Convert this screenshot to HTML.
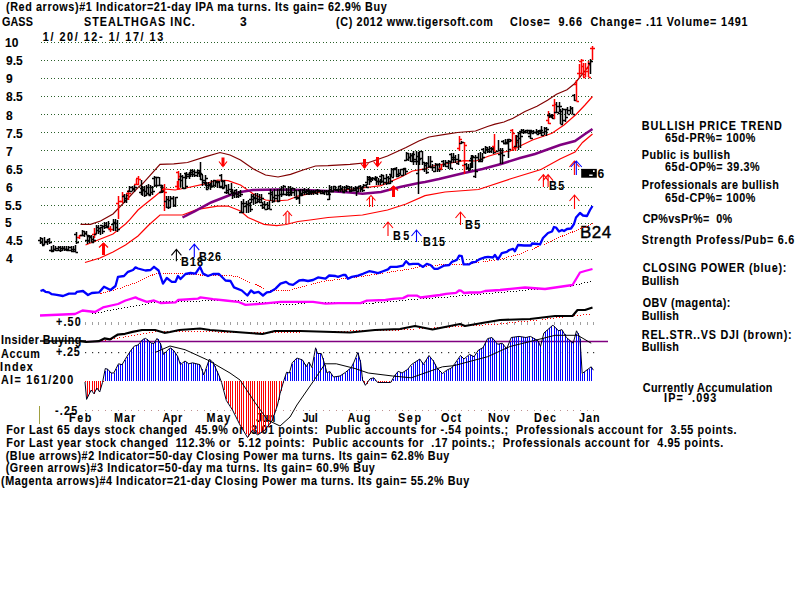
<!DOCTYPE html>
<html><head><meta charset="utf-8"><style>
html,body{margin:0;padding:0;background:#fff;width:800px;height:600px;overflow:hidden}
svg{display:block}
text{font-family:"Liberation Sans",sans-serif;white-space:pre}
</style></head><body>
<svg width="800" height="600" viewBox="0 0 800 600" xml:space="preserve">
<rect width="800" height="600" fill="#fff"/>
<g stroke="#000" stroke-width="0.08">
<text transform="translate(6.00 10.6) scale(0.9 1)" x="0" y="0" font-size="12" font-weight="bold" textLength="423.02" lengthAdjust="spacing">(Red arrows)#1 Indicator=21-day IPA ma turns. Its gain= 62.9% Buy</text>
<text transform="translate(1.90 25.6) scale(0.9 1)" x="0" y="0" font-size="12" font-weight="bold" textLength="34.46" lengthAdjust="spacing">GASS</text>
<text transform="translate(84.10 25.6) scale(0.9 1)" x="0" y="0" font-size="12" font-weight="bold" textLength="122.89" lengthAdjust="spacing">STEALTHGAS INC.</text>
<text transform="translate(240.00 25.6) scale(1.0 1)" x="0" y="0" font-size="12" font-weight="bold" textLength="7.39" lengthAdjust="spacing">3</text>
<text transform="translate(336.10 25.6) scale(0.9 1)" x="0" y="0" font-size="12" font-weight="bold" textLength="174.14" lengthAdjust="spacing">(C) 2012 www.tigersoft.com</text>
<text transform="translate(510.00 25.6) scale(0.9 1)" x="0" y="0" font-size="12" font-weight="bold" textLength="264.02" lengthAdjust="spacing">Close=  9.66  Change= .11 Volume= 1491</text>
<text transform="translate(42.85 40.6) scale(0.9 1)" x="0" y="0" font-size="12" font-weight="bold" textLength="133.69" lengthAdjust="spacing">1/ 20/ 12- 1/ 17/ 13</text>
<text transform="translate(641.85 129.9) scale(0.9 1)" x="0" y="0" font-size="12" font-weight="bold" textLength="155.56" lengthAdjust="spacing">BULLISH PRICE TREND</text>
<text transform="translate(665.00 141.6) scale(0.9 1)" x="0" y="0" font-size="12" font-weight="bold" textLength="100.49" lengthAdjust="spacing">65d-PR%= 100%</text>
<text transform="translate(641.85 158.6) scale(0.9 1)" x="0" y="0" font-size="12" font-weight="bold" textLength="98.03" lengthAdjust="spacing">Public is bullish</text>
<text transform="translate(665.00 171.3) scale(0.9 1)" x="0" y="0" font-size="12" font-weight="bold" textLength="105.17" lengthAdjust="spacing">65d-OP%= 39.3%</text>
<text transform="translate(641.85 188.8) scale(0.9 1)" x="0" y="0" font-size="12" font-weight="bold" textLength="152.17" lengthAdjust="spacing">Professionals are bullish</text>
<text transform="translate(665.00 201.6) scale(0.9 1)" x="0" y="0" font-size="12" font-weight="bold" textLength="100.49" lengthAdjust="spacing">65d-CP%= 100%</text>
<text transform="translate(642.75 222.8) scale(0.9 1)" x="0" y="0" font-size="12" font-weight="bold" textLength="99.23" lengthAdjust="spacing">CP%vsPr%=  0%</text>
<text transform="translate(641.85 244) scale(0.9 1)" x="0" y="0" font-size="12" font-weight="bold" textLength="169.39" lengthAdjust="spacing">Strength Profess/Pub= 6.6</text>
<text transform="translate(642.75 272.4) scale(0.9 1)" x="0" y="0" font-size="12" font-weight="bold" textLength="159.55" lengthAdjust="spacing">CLOSING POWER (blue):</text>
<text transform="translate(641.85 285.4) scale(0.9 1)" x="0" y="0" font-size="12" font-weight="bold" textLength="41.02" lengthAdjust="spacing">Bullish</text>
<text transform="translate(642.75 307) scale(0.9 1)" x="0" y="0" font-size="12" font-weight="bold" textLength="97.35" lengthAdjust="spacing">OBV (magenta):</text>
<text transform="translate(641.85 319.8) scale(0.9 1)" x="0" y="0" font-size="12" font-weight="bold" textLength="41.02" lengthAdjust="spacing">Bullish</text>
<text transform="translate(641.85 338.5) scale(0.9 1)" x="0" y="0" font-size="12" font-weight="bold" textLength="166.45" lengthAdjust="spacing">REL.STR..VS DJI (brown):</text>
<text transform="translate(641.85 350.6) scale(0.9 1)" x="0" y="0" font-size="12" font-weight="bold" textLength="41.02" lengthAdjust="spacing">Bullish</text>
<text transform="translate(642.75 391.9) scale(0.9 1)" x="0" y="0" font-size="12" font-weight="bold" textLength="144.13" lengthAdjust="spacing">Currently Accumulation</text>
<text transform="translate(664.10 402.3) scale(0.9 1)" x="0" y="0" font-size="12" font-weight="bold" textLength="58.04" lengthAdjust="spacing">IP=  .093</text>
<text transform="translate(6.20 434) scale(0.9 1)" x="0" y="0" font-size="12" font-weight="bold" textLength="811.41" lengthAdjust="spacing">For Last 65 days stock changed  45.9% or  3.01 points:  Public accounts for -.54 points.;  Professionals account for  3.55 points.</text>
<text transform="translate(6.20 446.6) scale(0.9 1)" x="0" y="0" font-size="12" font-weight="bold" textLength="796.75" lengthAdjust="spacing">For Last year stock changed  112.3% or  5.12 points:  Public accounts for  .17 points.;  Professionals account for  4.95 points.</text>
<text transform="translate(5.70 459.75) scale(0.9 1)" x="0" y="0" font-size="12" font-weight="bold" textLength="492.92" lengthAdjust="spacing">(Blue arrows)#2 Indicator=50-day Closing Power ma turns. Its gain= 62.8% Buy</text>
<text transform="translate(5.70 472) scale(0.9 1)" x="0" y="0" font-size="12" font-weight="bold" textLength="410.15" lengthAdjust="spacing">(Green arrows)#3 Indicator=50-day ma turns. Its gain= 60.9% Buy</text>
<text transform="translate(1.00 485) scale(0.9 1)" x="0" y="0" font-size="12" font-weight="bold" textLength="520.25" lengthAdjust="spacing">(Magenta arrows)#4 Indicator=21-day Closing Power ma turns. Its gain= 55.2% Buy</text>
<text transform="translate(69.10 422) scale(0.9 1)" x="0" y="0" font-size="12" font-weight="bold" textLength="24.68" lengthAdjust="spacing">Feb</text>
<text transform="translate(114.10 422) scale(0.9 1)" x="0" y="0" font-size="12" font-weight="bold" textLength="23.57" lengthAdjust="spacing">Mar</text>
<text transform="translate(162.50 422) scale(0.9 1)" x="0" y="0" font-size="12" font-weight="bold" textLength="21.89" lengthAdjust="spacing">Apr</text>
<text transform="translate(206.60 422) scale(0.9 1)" x="0" y="0" font-size="12" font-weight="bold" textLength="26.34" lengthAdjust="spacing">May</text>
<text transform="translate(256.00 422) scale(0.9 1)" x="0" y="0" font-size="12" font-weight="bold" textLength="21.45" lengthAdjust="spacing">Jun</text>
<text transform="translate(302.50 422) scale(0.9 1)" x="0" y="0" font-size="12" font-weight="bold" textLength="17.01" lengthAdjust="spacing">Jul</text>
<text transform="translate(347.50 422) scale(0.9 1)" x="0" y="0" font-size="12" font-weight="bold" textLength="25.33" lengthAdjust="spacing">Aug</text>
<text transform="translate(398.10 422) scale(0.9 1)" x="0" y="0" font-size="12" font-weight="bold" textLength="25.46" lengthAdjust="spacing">Sep</text>
<text transform="translate(441.00 422) scale(0.9 1)" x="0" y="0" font-size="12" font-weight="bold" textLength="22.24" lengthAdjust="spacing">Oct</text>
<text transform="translate(488.10 422) scale(0.9 1)" x="0" y="0" font-size="12" font-weight="bold" textLength="24.01" lengthAdjust="spacing">Nov</text>
<text transform="translate(534.10 422) scale(0.9 1)" x="0" y="0" font-size="12" font-weight="bold" textLength="24.35" lengthAdjust="spacing">Dec</text>
<text transform="translate(579.00 422) scale(0.9 1)" x="0" y="0" font-size="12" font-weight="bold" textLength="22.91" lengthAdjust="spacing">Jan</text>
<text transform="translate(56.00 326.25) scale(0.9 1)" x="0" y="0" font-size="12" font-weight="bold" textLength="27.37" lengthAdjust="spacing">+.50</text>
<text transform="translate(1.10 344.4) scale(0.9 1)" x="0" y="0" font-size="12" font-weight="bold" textLength="89.12" lengthAdjust="spacing">Insider Buying</text>
<text transform="translate(56.00 355.6) scale(0.9 1)" x="0" y="0" font-size="12" font-weight="bold" textLength="26.37" lengthAdjust="spacing">+.25</text>
<text transform="translate(1.00 357.5) scale(0.9 1)" x="0" y="0" font-size="12" font-weight="bold" textLength="43.24" lengthAdjust="spacing">Accum</text>
<text transform="translate(0.10 370.5) scale(0.9 1)" x="0" y="0" font-size="12" font-weight="bold" textLength="36.34" lengthAdjust="spacing">Index</text>
<text transform="translate(1.00 383.5) scale(0.9 1)" x="0" y="0" font-size="12" font-weight="bold" textLength="80.16" lengthAdjust="spacing">AI= 161/200</text>
<text transform="translate(55.00 415) scale(0.9 1)" x="0" y="0" font-size="12" font-weight="bold" textLength="24.69" lengthAdjust="spacing">-.25</text>
<text transform="translate(393.10 240) scale(0.9 1)" x="0" y="0" font-size="12" font-weight="bold" textLength="18.01" lengthAdjust="spacing">B5</text>
<text transform="translate(423.10 246) scale(0.9 1)" x="0" y="0" font-size="12" font-weight="bold" textLength="24.35" lengthAdjust="spacing">B15</text>
<text transform="translate(465.10 229) scale(0.9 1)" x="0" y="0" font-size="12" font-weight="bold" textLength="16.90" lengthAdjust="spacing">B5</text>
<text transform="translate(549.10 190) scale(0.9 1)" x="0" y="0" font-size="12" font-weight="bold" textLength="16.90" lengthAdjust="spacing">B5</text>
<text transform="translate(181.10 265.6) scale(0.9 1)" x="0" y="0" font-size="12" font-weight="bold" textLength="24.35" lengthAdjust="spacing">B18</text>
<text transform="translate(199.10 261.25) scale(0.9 1)" x="0" y="0" font-size="12" font-weight="bold" textLength="24.35" lengthAdjust="spacing">B26</text>
<text transform="translate(580.00 237.5) scale(1.0 1)" x="0" y="0" font-size="17" font-weight="normal" textLength="31.25" lengthAdjust="spacing" stroke-width="0.4">B24</text>
<text transform="translate(597.50 177.5) scale(1.0 1)" x="0" y="0" font-size="12" font-weight="bold" textLength="7.19" lengthAdjust="spacing">6</text>
<text x="5.00" y="46.5" font-size="12" font-weight="bold">10</text>
<text x="6.00" y="64.5" font-size="12" font-weight="bold">9.5</text>
<text x="6.00" y="82.5" font-size="12" font-weight="bold">9</text>
<text x="6.00" y="101" font-size="12" font-weight="bold">8.5</text>
<text x="6.00" y="119.5" font-size="12" font-weight="bold">8</text>
<text x="6.00" y="137.5" font-size="12" font-weight="bold">7.5</text>
<text x="6.00" y="155.6" font-size="12" font-weight="bold">7</text>
<text x="6.00" y="173.75" font-size="12" font-weight="bold">6.5</text>
<text x="6.00" y="191.6" font-size="12" font-weight="bold">6</text>
<text x="5.00" y="209.8" font-size="12" font-weight="bold">5.5</text>
<text x="5.00" y="227.2" font-size="12" font-weight="bold">5</text>
<text x="6.00" y="245.4" font-size="12" font-weight="bold">4.5</text>
<text x="6.00" y="262.8" font-size="12" font-weight="bold">4</text>
</g>
<line x1="40.5" y1="42.5" x2="594" y2="42.5" stroke="#2a602a" stroke-width="1" stroke-dasharray="1 2.4" shape-rendering="crispEdges"/>
<line x1="40.5" y1="60.5" x2="594" y2="60.5" stroke="#2a602a" stroke-width="1" stroke-dasharray="1 2.4" shape-rendering="crispEdges"/>
<line x1="40.5" y1="78.5" x2="594" y2="78.5" stroke="#2a602a" stroke-width="1" stroke-dasharray="1 2.4" shape-rendering="crispEdges"/>
<line x1="40.5" y1="96.5" x2="594" y2="96.5" stroke="#2a602a" stroke-width="1" stroke-dasharray="1 2.4" shape-rendering="crispEdges"/>
<line x1="40.5" y1="114.5" x2="594" y2="114.5" stroke="#2a602a" stroke-width="1" stroke-dasharray="1 2.4" shape-rendering="crispEdges"/>
<line x1="40.5" y1="132.5" x2="594" y2="132.5" stroke="#2a602a" stroke-width="1" stroke-dasharray="1 2.4" shape-rendering="crispEdges"/>
<line x1="40.5" y1="150.5" x2="594" y2="150.5" stroke="#2a602a" stroke-width="1" stroke-dasharray="1 2.4" shape-rendering="crispEdges"/>
<line x1="40.5" y1="169.5" x2="594" y2="169.5" stroke="#2a602a" stroke-width="1" stroke-dasharray="1 2.4" shape-rendering="crispEdges"/>
<line x1="40.5" y1="187.5" x2="594" y2="187.5" stroke="#2a602a" stroke-width="1" stroke-dasharray="1 2.4" shape-rendering="crispEdges"/>
<line x1="40.5" y1="205.5" x2="594" y2="205.5" stroke="#2a602a" stroke-width="1" stroke-dasharray="1 2.4" shape-rendering="crispEdges"/>
<line x1="40.5" y1="223.5" x2="594" y2="223.5" stroke="#2a602a" stroke-width="1" stroke-dasharray="1 2.4" shape-rendering="crispEdges"/>
<line x1="40.5" y1="241.5" x2="594" y2="241.5" stroke="#2a602a" stroke-width="1" stroke-dasharray="1 2.4" shape-rendering="crispEdges"/>
<line x1="40.5" y1="259.5" x2="594" y2="259.5" stroke="#2a602a" stroke-width="1" stroke-dasharray="1 2.4" shape-rendering="crispEdges"/>
<polyline points="80.5,224.4 90.5,224.4 100.5,221.0 113.0,214.0 125.5,201.0 138.0,187.5 142.5,183.8 160.0,164.4 173.8,163.8 187.5,162.5 205.0,156.9 220.0,152.5 230.0,155.0 240.5,160.0 253.0,168.8 265.5,175.0 278.0,177.0 290.5,174.4 303.0,170.0 315.5,166.0 328.0,165.6 350.0,164.4 368.8,162.5 387.5,156.0 406.0,147.5 418.8,141.0 429.0,137.0 445.0,134.4 457.5,132.5 475.5,131.0 487.5,126.5 495.0,124.2 504.0,122.0 513.0,118.2 525.0,111.5 537.0,106.2 547.5,100.2 556.5,94.2 567.0,89.7 574.5,83.7 585.0,71.0 591.0,62.5" fill="none" stroke="#800000" stroke-width="1.2"/>
<polyline points="85.5,245.0 100.5,239.0 113.0,234.0 125.5,224.0 130.0,219.4 138.0,210.0 142.5,206.2 155.0,196.2 163.8,188.8 175.0,190.0 186.0,188.0 205.0,183.8 217.5,180.0 228.0,180.6 240.5,185.0 253.0,193.8 265.5,200.0 275.5,201.0 288.0,200.0 298.0,196.0 309.0,193.8 328.0,190.6 337.5,190.6 362.5,188.0 381.0,185.6 400.0,177.5 412.5,171.0 425.0,168.8 432.5,166.0 451.0,163.0 464.0,160.6 476.0,161.0 489.0,156.0 501.0,152.5 510.0,151.0 520.0,146.0 532.5,140.0 552.0,133.2 564.0,125.0 576.0,114.5 585.0,105.0 592.5,96.5" fill="none" stroke="#ff0000" stroke-width="1.2"/>
<polyline points="85.0,262.5 100.0,258.0 113.0,252.0 125.5,245.0 138.0,236.0 148.8,225.0 160.0,215.0 182.5,215.0 197.5,209.4 217.5,206.2 228.0,206.0 240.5,211.0 248.0,217.5 264.0,224.4 276.8,225.6 286.0,224.5 298.0,221.5 310.0,220.0 328.0,217.5 362.5,215.0 387.5,210.0 406.0,204.0 425.0,195.6 445.0,192.0 478.5,189.5 510.0,179.0 541.0,169.5 560.0,159.0 575.0,152.0 582.5,142.5 592.5,134.0" fill="none" stroke="#ff0000" stroke-width="1.2"/>
<polyline points="182.5,217.5 195.0,211.2 211.0,202.5 230.0,195.0 240.5,192.0 253.0,190.0 278.0,189.4 303.0,190.0 328.0,191.0 350.0,192.5 362.5,193.8 381.0,192.0 400.0,187.0 418.8,183.0 425.0,182.0 439.0,179.0 464.0,173.0 482.5,169.0 501.0,164.0 520.0,158.0 535.0,154.0 560.0,145.0 575.0,141.0 585.0,134.0 592.5,129.0" fill="none" stroke="#800080" stroke-width="2.5"/>
<g fill="none" stroke-width="1.5" shape-rendering="auto"><path d="M40.5 237V244M38.0 240.5h2.5M40.5 242.5h2.5" stroke="#000000"/><path d="M42.5 238V245M40.0 238.5h2.5M42.5 244.5h2.5" stroke="#000000"/><path d="M44.5 237V245M42.0 245.5h2.5M44.5 241.5h2.5" stroke="#000000"/><path d="M47.5 239V245M45.0 242.5h2.5M47.5 239.5h2.5" stroke="#000000"/><path d="M49.5 238V244M47.0 241.5h2.5M49.5 242.5h2.5" stroke="#000000"/><path d="M51.5 246V252M49.0 250.5h2.5M51.5 250.5h2.5" stroke="#000000"/><path d="M53.5 245V252M51.0 251.5h2.5M53.5 249.5h2.5" stroke="#000000"/><path d="M55.5 246V251M53.0 249.5h2.5M55.5 250.5h2.5" stroke="#000000"/><path d="M58.5 246V251M56.0 248.5h2.5M58.5 250.5h2.5" stroke="#000000"/><path d="M60.5 246V252M58.0 247.5h2.5M60.5 248.5h2.5" stroke="#000000"/><path d="M62.5 246V251M60.0 250.5h2.5M62.5 248.5h2.5" stroke="#000000"/><path d="M64.5 246V251M62.0 248.5h2.5M64.5 249.5h2.5" stroke="#000000"/><path d="M66.5 246V251M64.0 249.5h2.5M66.5 250.5h2.5" stroke="#000000"/><path d="M68.5 246V250M66.0 249.5h2.5M68.5 247.5h2.5" stroke="#000000"/><path d="M71.5 246V251M69.0 250.5h2.5M71.5 249.5h2.5" stroke="#000000"/><path d="M73.5 246V252M71.0 251.5h2.5M73.5 249.5h2.5" stroke="#000000"/><path d="M75.5 245V252M73.0 251.5h2.5M75.5 252.5h2.5" stroke="#000000"/><path d="M76.5 232V244M74.0 234.5h2.5M76.5 242.5h2.5" stroke="#000000"/><path d="M79.5 235V239M77.0 237.5h2.5M79.5 235.5h2.5" stroke="#ff0000"/><path d="M82.5 230V236M80.0 235.5h2.5M82.5 231.5h2.5" stroke="#000000"/><path d="M84.5 231V237M82.0 235.5h2.5M84.5 233.5h2.5" stroke="#000000"/><path d="M86.5 231V235M84.0 233.5h2.5M86.5 235.5h2.5" stroke="#000000"/><path d="M87.5 235V244M85.0 240.5h2.5M87.5 236.5h2.5" stroke="#000000"/><path d="M89.5 235V243M87.0 240.5h2.5M89.5 236.5h2.5" stroke="#000000"/><path d="M91.5 235V242M89.0 237.5h2.5M91.5 242.5h2.5" stroke="#000000"/><path d="M93.5 236V243M91.0 239.5h2.5M93.5 240.5h2.5" stroke="#000000"/><path d="M94.5 228V238M92.0 234.5h2.5M94.5 233.5h2.5" stroke="#ff0000"/><path d="M96.5 225V234M94.0 234.5h2.5M96.5 230.5h2.5" stroke="#000000"/><path d="M98.5 225V234M96.0 227.5h2.5M98.5 228.5h2.5" stroke="#000000"/><path d="M100.5 227V235M98.0 231.5h2.5M100.5 227.5h2.5" stroke="#000000"/><path d="M102.5 225V234M100.0 225.5h2.5M102.5 231.5h2.5" stroke="#000000"/><path d="M104.5 222V229M102.0 226.5h2.5M104.5 225.5h2.5" stroke="#000000"/><path d="M106.5 222V228M104.0 227.5h2.5M106.5 227.5h2.5" stroke="#000000"/><path d="M108.5 221V229M106.0 226.5h2.5M108.5 229.5h2.5" stroke="#000000"/><path d="M110.5 226V232M108.0 228.5h2.5M110.5 229.5h2.5" stroke="#ff0000"/><path d="M113.5 219V231M111.0 224.5h2.5M113.5 223.5h2.5" stroke="#000000"/><path d="M115.5 219V231M113.0 222.5h2.5M115.5 223.5h2.5" stroke="#000000"/><path d="M117.5 220V232M115.0 227.5h2.5M117.5 229.5h2.5" stroke="#000000"/><path d="M118.5 196V219M116.0 203.5h2.5M118.5 201.5h2.5" stroke="#ff0000"/><path d="M122.5 192V203M120.0 201.5h2.5M122.5 195.5h2.5" stroke="#ff0000"/><path d="M124.5 194V203M122.0 196.5h2.5M124.5 198.5h2.5" stroke="#000000"/><path d="M126.5 194V203M124.0 200.5h2.5M126.5 195.5h2.5" stroke="#000000"/><path d="M128.5 190V200M126.0 193.5h2.5M128.5 193.5h2.5" stroke="#ff0000"/><path d="M129.5 186V192M127.0 191.5h2.5M129.5 187.5h2.5" stroke="#000000"/><path d="M132.5 186V191M130.0 191.5h2.5M132.5 188.5h2.5" stroke="#000000"/><path d="M134.5 185V192M132.0 189.5h2.5M134.5 187.5h2.5" stroke="#000000"/><path d="M136.5 179V185M134.0 184.5h2.5M136.5 184.5h2.5" stroke="#ff0000"/><path d="M138.5 176V185M136.0 178.5h2.5M138.5 179.5h2.5" stroke="#ff0000"/><path d="M141.5 180V195M139.0 192.5h2.5M141.5 190.5h2.5" stroke="#000000"/><path d="M142.5 186V196M140.0 188.5h2.5M142.5 189.5h2.5" stroke="#000000"/><path d="M144.5 186V197M142.0 190.5h2.5M144.5 191.5h2.5" stroke="#000000"/><path d="M146.5 185V196M144.0 195.5h2.5M146.5 187.5h2.5" stroke="#000000"/><path d="M148.5 184V195M146.0 193.5h2.5M148.5 195.5h2.5" stroke="#000000"/><path d="M150.5 185V195M148.0 194.5h2.5M150.5 187.5h2.5" stroke="#000000"/><path d="M152.5 186V195M150.0 192.5h2.5M152.5 191.5h2.5" stroke="#000000"/><path d="M154.5 176V187M152.0 178.5h2.5M154.5 177.5h2.5" stroke="#000000"/><path d="M156.5 177V187M154.0 185.5h2.5M156.5 177.5h2.5" stroke="#000000"/><path d="M159.5 177V186M157.0 185.5h2.5M159.5 185.5h2.5" stroke="#000000"/><path d="M161.5 185V193M159.0 192.5h2.5M161.5 190.5h2.5" stroke="#000000"/><path d="M162.5 185V193M160.0 185.5h2.5M162.5 191.5h2.5" stroke="#000000"/><path d="M164.5 184V211M162.0 189.5h2.5M164.5 192.5h2.5" stroke="#ff0000"/><path d="M166.5 196V208M164.0 201.5h2.5M166.5 207.5h2.5" stroke="#000000"/><path d="M168.5 196V209M166.0 199.5h2.5M168.5 207.5h2.5" stroke="#000000"/><path d="M170.5 196V207M168.0 200.5h2.5M170.5 198.5h2.5" stroke="#000000"/><path d="M173.5 196V207M171.0 198.5h2.5M173.5 205.5h2.5" stroke="#000000"/><path d="M175.5 197V207M173.0 205.5h2.5M175.5 197.5h2.5" stroke="#000000"/><path d="M177.5 181V189M175.0 186.5h2.5M177.5 188.5h2.5" stroke="#ff0000"/><path d="M178.5 171V189M176.0 172.5h2.5M178.5 176.5h2.5" stroke="#ff0000"/><path d="M180.5 173V187M178.0 179.5h2.5M180.5 180.5h2.5" stroke="#000000"/><path d="M182.5 175V189M180.0 176.5h2.5M182.5 177.5h2.5" stroke="#000000"/><path d="M185.5 173V189M183.0 188.5h2.5M185.5 186.5h2.5" stroke="#000000"/><path d="M186.5 172V179M184.0 173.5h2.5M186.5 176.5h2.5" stroke="#000000"/><path d="M189.5 172V179M187.0 174.5h2.5M189.5 174.5h2.5" stroke="#000000"/><path d="M190.5 170V177M188.0 174.5h2.5M190.5 172.5h2.5" stroke="#000000"/><path d="M192.5 169V177M190.0 170.5h2.5M192.5 174.5h2.5" stroke="#000000"/><path d="M194.5 170V177M192.0 171.5h2.5M194.5 172.5h2.5" stroke="#000000"/><path d="M197.5 170V177M195.0 175.5h2.5M197.5 172.5h2.5" stroke="#000000"/><path d="M199.5 171V177M197.0 173.5h2.5M199.5 173.5h2.5" stroke="#000000"/><path d="M200.5 162V180M198.0 170.5h2.5M200.5 174.5h2.5" stroke="#000000"/><path d="M202.5 175V186M200.0 179.5h2.5M202.5 182.5h2.5" stroke="#000000"/><path d="M205.5 175V186M203.0 180.5h2.5M205.5 178.5h2.5" stroke="#000000"/><path d="M206.5 182V190M204.0 183.5h2.5M206.5 185.5h2.5" stroke="#000000"/><path d="M208.5 182V189M206.0 189.5h2.5M208.5 185.5h2.5" stroke="#000000"/><path d="M210.5 183V190M208.0 185.5h2.5M210.5 186.5h2.5" stroke="#000000"/><path d="M211.5 180V187M209.0 184.5h2.5M211.5 186.5h2.5" stroke="#000000"/><path d="M213.5 181V187M211.0 186.5h2.5M213.5 185.5h2.5" stroke="#000000"/><path d="M215.5 180V187M213.0 180.5h2.5M215.5 181.5h2.5" stroke="#000000"/><path d="M217.5 181V188M215.0 182.5h2.5M217.5 182.5h2.5" stroke="#000000"/><path d="M219.5 181V188M217.0 181.5h2.5M219.5 187.5h2.5" stroke="#000000"/><path d="M221.5 174V182M219.0 175.5h2.5M221.5 181.5h2.5" stroke="#000000"/><path d="M222.5 180V188M220.0 186.5h2.5M222.5 187.5h2.5" stroke="#000000"/><path d="M224.5 180V188M222.0 188.5h2.5M224.5 185.5h2.5" stroke="#000000"/><path d="M226.5 185V194M224.0 192.5h2.5M226.5 190.5h2.5" stroke="#000000"/><path d="M228.5 184V194M226.0 192.5h2.5M228.5 194.5h2.5" stroke="#000000"/><path d="M231.5 183V194M229.0 189.5h2.5M231.5 192.5h2.5" stroke="#000000"/><path d="M232.5 189V199M230.0 191.5h2.5M232.5 195.5h2.5" stroke="#000000"/><path d="M234.5 190V198M232.0 193.5h2.5M234.5 193.5h2.5" stroke="#000000"/><path d="M236.5 189V198M234.0 190.5h2.5M236.5 194.5h2.5" stroke="#000000"/><path d="M238.5 191V198M236.0 196.5h2.5M238.5 192.5h2.5" stroke="#000000"/><path d="M240.5 190V197M238.0 195.5h2.5M240.5 194.5h2.5" stroke="#000000"/><path d="M241.5 201V213M239.0 212.5h2.5M241.5 203.5h2.5" stroke="#000000"/><path d="M243.5 199V213M241.0 212.5h2.5M243.5 206.5h2.5" stroke="#000000"/><path d="M246.5 201V213M244.0 203.5h2.5M246.5 204.5h2.5" stroke="#000000"/><path d="M248.5 200V213M246.0 204.5h2.5M248.5 203.5h2.5" stroke="#000000"/><path d="M250.5 202V212M248.0 205.5h2.5M250.5 209.5h2.5" stroke="#000000"/><path d="M251.5 194V203M249.0 199.5h2.5M251.5 196.5h2.5" stroke="#000000"/><path d="M253.5 194V205M251.0 199.5h2.5M253.5 198.5h2.5" stroke="#000000"/><path d="M255.5 193V204M253.0 197.5h2.5M255.5 202.5h2.5" stroke="#000000"/><path d="M257.5 193V202M255.0 198.5h2.5M257.5 199.5h2.5" stroke="#000000"/><path d="M259.5 194V203M257.0 201.5h2.5M259.5 199.5h2.5" stroke="#000000"/><path d="M261.5 194V203M259.0 202.5h2.5M261.5 198.5h2.5" stroke="#000000"/><path d="M262.5 202V209M260.0 205.5h2.5M262.5 204.5h2.5" stroke="#000000"/><path d="M264.5 201V209M262.0 207.5h2.5M264.5 209.5h2.5" stroke="#000000"/><path d="M267.5 202V210M265.0 204.5h2.5M267.5 205.5h2.5" stroke="#000000"/><path d="M269.5 201V209M267.0 208.5h2.5M269.5 209.5h2.5" stroke="#000000"/><path d="M270.5 189V201M268.0 193.5h2.5M270.5 194.5h2.5" stroke="#000000"/><path d="M272.5 191V203M270.0 192.5h2.5M272.5 201.5h2.5" stroke="#000000"/><path d="M274.5 189V202M272.0 197.5h2.5M274.5 198.5h2.5" stroke="#000000"/><path d="M277.5 189V202M275.0 195.5h2.5M277.5 195.5h2.5" stroke="#000000"/><path d="M279.5 189V202M277.0 201.5h2.5M279.5 194.5h2.5" stroke="#000000"/><path d="M281.5 186V197M279.0 189.5h2.5M281.5 194.5h2.5" stroke="#000000"/><path d="M283.5 185V195M281.0 194.5h2.5M283.5 186.5h2.5" stroke="#000000"/><path d="M286.5 188V196M284.0 194.5h2.5M286.5 194.5h2.5" stroke="#000000"/><path d="M288.5 186V196M286.0 192.5h2.5M288.5 194.5h2.5" stroke="#000000"/><path d="M290.5 186V195M288.0 195.5h2.5M290.5 192.5h2.5" stroke="#000000"/><path d="M291.5 188V196M289.0 192.5h2.5M291.5 188.5h2.5" stroke="#000000"/><path d="M294.5 188V196M292.0 192.5h2.5M294.5 190.5h2.5" stroke="#000000"/><path d="M296.5 190V200M294.0 197.5h2.5M296.5 197.5h2.5" stroke="#000000"/><path d="M299.5 190V204M297.0 198.5h2.5M299.5 193.5h2.5" stroke="#000000"/><path d="M300.5 189V195M298.0 190.5h2.5M300.5 194.5h2.5" stroke="#000000"/><path d="M302.5 189V196M300.0 195.5h2.5M302.5 190.5h2.5" stroke="#000000"/><path d="M304.5 188V195M302.0 192.5h2.5M304.5 192.5h2.5" stroke="#000000"/><path d="M306.5 189V195M304.0 191.5h2.5M306.5 190.5h2.5" stroke="#000000"/><path d="M308.5 188V195M306.0 193.5h2.5M308.5 191.5h2.5" stroke="#000000"/><path d="M309.5 190V195M307.0 191.5h2.5M309.5 192.5h2.5" stroke="#000000"/><path d="M311.5 190V195M309.0 193.5h2.5M311.5 191.5h2.5" stroke="#000000"/><path d="M313.5 190V195M311.0 192.5h2.5M313.5 192.5h2.5" stroke="#000000"/><path d="M315.5 190V194M313.0 191.5h2.5M315.5 193.5h2.5" stroke="#000000"/><path d="M317.5 189V195M315.0 190.5h2.5M317.5 190.5h2.5" stroke="#000000"/><path d="M320.5 190V194M318.0 191.5h2.5M320.5 191.5h2.5" stroke="#000000"/><path d="M322.5 190V194M320.0 193.5h2.5M322.5 193.5h2.5" stroke="#000000"/><path d="M324.5 190V195M322.0 192.5h2.5M324.5 191.5h2.5" stroke="#000000"/><path d="M326.5 190V194M324.0 191.5h2.5M326.5 191.5h2.5" stroke="#000000"/><path d="M328.5 190V195M326.0 194.5h2.5M328.5 194.5h2.5" stroke="#000000"/><path d="M329.5 185V200M327.0 199.5h2.5M329.5 191.5h2.5" stroke="#000000"/><path d="M331.5 186V192M329.0 189.5h2.5M331.5 191.5h2.5" stroke="#000000"/><path d="M333.5 186V192M331.0 191.5h2.5M333.5 189.5h2.5" stroke="#000000"/><path d="M335.5 186V191M333.0 186.5h2.5M335.5 190.5h2.5" stroke="#000000"/><path d="M338.5 186V192M336.0 189.5h2.5M338.5 189.5h2.5" stroke="#000000"/><path d="M340.5 185V192M338.0 186.5h2.5M340.5 188.5h2.5" stroke="#000000"/><path d="M342.5 186V192M340.0 189.5h2.5M342.5 192.5h2.5" stroke="#000000"/><path d="M344.5 186V192M342.0 191.5h2.5M344.5 190.5h2.5" stroke="#000000"/><path d="M346.5 185V192M344.0 187.5h2.5M346.5 186.5h2.5" stroke="#000000"/><path d="M349.5 186V191M347.0 188.5h2.5M349.5 190.5h2.5" stroke="#000000"/><path d="M351.5 186V192M349.0 191.5h2.5M351.5 190.5h2.5" stroke="#000000"/><path d="M353.5 187V191M351.0 190.5h2.5M353.5 188.5h2.5" stroke="#000000"/><path d="M355.5 186V191M353.0 190.5h2.5M355.5 188.5h2.5" stroke="#000000"/><path d="M358.5 186V192M356.0 187.5h2.5M358.5 186.5h2.5" stroke="#000000"/><path d="M360.5 185V192M358.0 186.5h2.5M360.5 189.5h2.5" stroke="#000000"/><path d="M362.5 186V192M360.0 188.5h2.5M362.5 190.5h2.5" stroke="#000000"/><path d="M356.5 188V196M354.0 190.5h2.5M356.5 191.5h2.5" stroke="#000000"/><path d="M363.5 184V188M361.0 187.5h2.5M363.5 185.5h2.5" stroke="#000000"/><path d="M366.5 184V188M364.0 185.5h2.5M366.5 187.5h2.5" stroke="#000000"/><path d="M367.5 176V185M365.0 182.5h2.5M367.5 179.5h2.5" stroke="#000000"/><path d="M369.5 176V185M367.0 179.5h2.5M369.5 181.5h2.5" stroke="#000000"/><path d="M370.5 177V181M368.0 177.5h2.5M370.5 178.5h2.5" stroke="#000000"/><path d="M372.5 177V181M370.0 179.5h2.5M372.5 178.5h2.5" stroke="#000000"/><path d="M375.5 176V181M373.0 178.5h2.5M375.5 177.5h2.5" stroke="#000000"/><path d="M376.5 178V185M374.0 179.5h2.5M376.5 181.5h2.5" stroke="#000000"/><path d="M378.5 178V185M376.0 181.5h2.5M378.5 181.5h2.5" stroke="#000000"/><path d="M380.5 179V185M378.0 181.5h2.5M380.5 181.5h2.5" stroke="#000000"/><path d="M381.5 174V183M379.0 176.5h2.5M381.5 175.5h2.5" stroke="#000000"/><path d="M383.5 175V185M381.0 181.5h2.5M383.5 178.5h2.5" stroke="#000000"/><path d="M386.5 174V185M384.0 182.5h2.5M386.5 177.5h2.5" stroke="#000000"/><path d="M388.5 176V184M386.0 183.5h2.5M388.5 178.5h2.5" stroke="#000000"/><path d="M390.5 175V184M388.0 183.5h2.5M390.5 181.5h2.5" stroke="#000000"/><path d="M391.5 168V177M389.0 174.5h2.5M391.5 177.5h2.5" stroke="#000000"/><path d="M393.5 168V177M391.0 169.5h2.5M393.5 169.5h2.5" stroke="#000000"/><path d="M396.5 167V177M394.0 168.5h2.5M396.5 174.5h2.5" stroke="#000000"/><path d="M398.5 169V177M396.0 176.5h2.5M398.5 173.5h2.5" stroke="#000000"/><path d="M400.5 169V175M398.0 175.5h2.5M400.5 169.5h2.5" stroke="#000000"/><path d="M403.5 168V176M401.0 175.5h2.5M403.5 168.5h2.5" stroke="#000000"/><path d="M405.5 168V175M403.0 169.5h2.5M405.5 171.5h2.5" stroke="#000000"/><path d="M406.5 152V161M404.0 160.5h2.5M406.5 153.5h2.5" stroke="#000000"/><path d="M408.5 153V161M406.0 159.5h2.5M408.5 157.5h2.5" stroke="#000000"/><path d="M410.5 153V162M408.0 157.5h2.5M410.5 155.5h2.5" stroke="#000000"/><path d="M412.5 153V161M410.0 155.5h2.5M412.5 154.5h2.5" stroke="#000000"/><path d="M413.5 151V165M411.0 161.5h2.5M413.5 159.5h2.5" stroke="#000000"/><path d="M416.5 151V165M414.0 161.5h2.5M416.5 156.5h2.5" stroke="#000000"/><path d="M418.5 152V194M416.0 173.5h2.5M418.5 159.5h2.5" stroke="#000000"/><path d="M419.5 151V165M417.0 161.5h2.5M419.5 151.5h2.5" stroke="#000000"/><path d="M422.5 151V165M420.0 158.5h2.5M422.5 162.5h2.5" stroke="#000000"/><path d="M424.5 162V172M422.0 169.5h2.5M424.5 163.5h2.5" stroke="#000000"/><path d="M426.5 162V174M424.0 165.5h2.5M426.5 172.5h2.5" stroke="#000000"/><path d="M428.5 156V168M426.0 163.5h2.5M428.5 166.5h2.5" stroke="#000000"/><path d="M430.5 156V168M428.0 166.5h2.5M430.5 161.5h2.5" stroke="#000000"/><path d="M432.5 164V171M430.0 167.5h2.5M432.5 167.5h2.5" stroke="#000000"/><path d="M435.5 163V172M433.0 171.5h2.5M435.5 164.5h2.5" stroke="#000000"/><path d="M437.5 164V172M435.0 164.5h2.5M437.5 169.5h2.5" stroke="#000000"/><path d="M439.5 163V172M437.0 164.5h2.5M439.5 169.5h2.5" stroke="#000000"/><path d="M441.5 164V170M439.0 168.5h2.5M441.5 164.5h2.5" stroke="#ff0000"/><path d="M443.5 160V167M441.0 161.5h2.5M443.5 164.5h2.5" stroke="#000000"/><path d="M445.5 160V167M443.0 164.5h2.5M445.5 166.5h2.5" stroke="#000000"/><path d="M448.5 160V169M446.0 162.5h2.5M448.5 161.5h2.5" stroke="#000000"/><path d="M450.5 161V169M448.0 161.5h2.5M450.5 168.5h2.5" stroke="#000000"/><path d="M451.5 153V163M449.0 154.5h2.5M451.5 157.5h2.5" stroke="#000000"/><path d="M453.5 153V163M451.0 159.5h2.5M453.5 159.5h2.5" stroke="#000000"/><path d="M455.5 155V163M453.0 157.5h2.5M455.5 159.5h2.5" stroke="#000000"/><path d="M458.5 154V165M456.0 163.5h2.5M458.5 160.5h2.5" stroke="#000000"/><path d="M459.5 136V151M457.0 148.5h2.5M459.5 139.5h2.5" stroke="#ff0000"/><path d="M461.5 141V144M459.0 143.5h2.5M461.5 142.5h2.5" stroke="#000000"/><path d="M464.5 142V174M462.0 165.5h2.5M464.5 145.5h2.5" stroke="#ff0000"/><path d="M466.5 163V170M464.0 164.5h2.5M466.5 167.5h2.5" stroke="#000000"/><path d="M468.5 164V170M466.0 168.5h2.5M468.5 168.5h2.5" stroke="#000000"/><path d="M470.5 163V170M468.0 170.5h2.5M470.5 165.5h2.5" stroke="#000000"/><path d="M471.5 155V168M469.0 160.5h2.5M471.5 156.5h2.5" stroke="#000000"/><path d="M472.5 155V168M470.0 158.5h2.5M472.5 157.5h2.5" stroke="#000000"/><path d="M475.5 155V178M473.0 176.5h2.5M475.5 171.5h2.5" stroke="#000000"/><path d="M478.5 153V160M476.0 157.5h2.5M478.5 160.5h2.5" stroke="#000000"/><path d="M480.5 152V161M478.0 161.5h2.5M480.5 161.5h2.5" stroke="#000000"/><path d="M482.5 153V161M480.0 159.5h2.5M482.5 157.5h2.5" stroke="#000000"/><path d="M483.5 148V152M481.0 149.5h2.5M483.5 152.5h2.5" stroke="#000000"/><path d="M485.5 146V154M483.0 152.5h2.5M485.5 149.5h2.5" stroke="#000000"/><path d="M487.5 147V153M485.0 147.5h2.5M487.5 151.5h2.5" stroke="#000000"/><path d="M489.5 146V153M487.0 149.5h2.5M489.5 151.5h2.5" stroke="#000000"/><path d="M491.5 147V153M489.0 148.5h2.5M491.5 149.5h2.5" stroke="#000000"/><path d="M493.5 147V154M491.0 148.5h2.5M493.5 152.5h2.5" stroke="#000000"/><path d="M494.5 134V151M492.0 146.5h2.5M494.5 151.5h2.5" stroke="#ff0000"/><path d="M498.5 140V151M496.0 151.5h2.5M498.5 150.5h2.5" stroke="#000000"/><path d="M500.5 148V164M498.0 154.5h2.5M500.5 150.5h2.5" stroke="#000000"/><path d="M502.5 148V164M500.0 153.5h2.5M502.5 155.5h2.5" stroke="#000000"/><path d="M503.5 140V143M501.0 141.5h2.5M503.5 143.5h2.5" stroke="#000000"/><path d="M505.5 139V143M503.0 143.5h2.5M505.5 143.5h2.5" stroke="#000000"/><path d="M507.5 139V144M505.0 143.5h2.5M507.5 139.5h2.5" stroke="#000000"/><path d="M508.5 140V158M506.0 142.5h2.5M508.5 149.5h2.5" stroke="#000000"/><path d="M510.5 139V142M508.0 141.5h2.5M510.5 140.5h2.5" stroke="#000000"/><path d="M512.5 129V151M510.0 130.5h2.5M512.5 133.5h2.5" stroke="#ff0000"/><path d="M515.5 135V151M513.0 147.5h2.5M515.5 142.5h2.5" stroke="#ff0000"/><path d="M516.5 135V147M514.0 146.5h2.5M516.5 136.5h2.5" stroke="#000000"/><path d="M518.5 132V150M516.0 140.5h2.5M518.5 138.5h2.5" stroke="#000000"/><path d="M520.5 131V148M518.0 133.5h2.5M520.5 136.5h2.5" stroke="#000000"/><path d="M521.5 129V133M519.0 131.5h2.5M521.5 130.5h2.5" stroke="#000000"/><path d="M523.5 129V134M521.0 132.5h2.5M523.5 132.5h2.5" stroke="#000000"/><path d="M525.5 130V133M523.0 131.5h2.5M525.5 130.5h2.5" stroke="#000000"/><path d="M527.5 130V133M525.0 132.5h2.5M527.5 133.5h2.5" stroke="#000000"/><path d="M529.5 130V134M527.0 130.5h2.5M529.5 130.5h2.5" stroke="#000000"/><path d="M530.5 130V139M528.0 136.5h2.5M530.5 138.5h2.5" stroke="#000000"/><path d="M531.5 130V133M529.0 132.5h2.5M531.5 133.5h2.5" stroke="#000000"/><path d="M533.5 130V133M531.0 131.5h2.5M533.5 132.5h2.5" stroke="#000000"/><path d="M536.5 129V134M534.0 132.5h2.5M536.5 134.5h2.5" stroke="#000000"/><path d="M538.5 130V134M536.0 131.5h2.5M538.5 131.5h2.5" stroke="#000000"/><path d="M540.5 130V134M538.0 133.5h2.5M540.5 130.5h2.5" stroke="#000000"/><path d="M541.5 126V136M539.0 130.5h2.5M541.5 135.5h2.5" stroke="#000000"/><path d="M544.5 127V135M542.0 132.5h2.5M544.5 128.5h2.5" stroke="#000000"/><path d="M546.5 127V136M544.0 131.5h2.5M546.5 129.5h2.5" stroke="#000000"/><path d="M548.5 111V124M546.0 120.5h2.5M548.5 123.5h2.5" stroke="#ff0000"/><path d="M549.5 113V118M547.0 115.5h2.5M549.5 115.5h2.5" stroke="#000000"/><path d="M551.5 114V118M549.0 116.5h2.5M551.5 115.5h2.5" stroke="#000000"/><path d="M552.5 114V119M550.0 116.5h2.5M552.5 118.5h2.5" stroke="#000000"/><path d="M554.5 99V119M552.0 105.5h2.5M554.5 104.5h2.5" stroke="#ff0000"/><path d="M556.5 102V112M554.0 112.5h2.5M556.5 112.5h2.5" stroke="#000000"/><path d="M559.5 102V112M557.0 106.5h2.5M559.5 106.5h2.5" stroke="#000000"/><path d="M560.5 109V124M558.0 113.5h2.5M560.5 124.5h2.5" stroke="#000000"/><path d="M562.5 108V124M560.0 111.5h2.5M562.5 109.5h2.5" stroke="#000000"/><path d="M565.5 110V122M563.0 120.5h2.5M565.5 117.5h2.5" stroke="#000000"/><path d="M567.5 107V114M565.0 109.5h2.5M567.5 114.5h2.5" stroke="#000000"/><path d="M570.5 106V114M568.0 110.5h2.5M570.5 108.5h2.5" stroke="#000000"/><path d="M572.5 107V114M570.0 108.5h2.5M572.5 114.5h2.5" stroke="#000000"/><path d="M574.5 94V101M572.0 95.5h2.5M574.5 100.5h2.5" stroke="#000000"/><path d="M576.5 80V101M574.0 84.5h2.5M576.5 101.5h2.5" stroke="#ff0000"/><path d="M579.5 64V78M577.0 73.5h2.5M579.5 73.5h2.5" stroke="#ff0000"/><path d="M581.5 59V74M579.0 61.5h2.5M581.5 60.5h2.5" stroke="#ff0000"/><path d="M583.5 63V77M581.0 66.5h2.5M583.5 74.5h2.5" stroke="#ff0000"/><path d="M585.5 63V77M583.0 77.5h2.5M585.5 71.5h2.5" stroke="#ff0000"/><path d="M588.5 61V77M586.0 68.5h2.5M588.5 77.5h2.5" stroke="#ff0000"/><path d="M590.5 59V74M588.0 63.5h2.5M590.5 61.5h2.5" stroke="#000000"/><path d="M592.5 46V60M590.0 48.5h2.5M592.5 48.5h2.5" stroke="#ff0000"/></g>
<path d="M103.5 243.5V255" stroke="#ff0000" stroke-width="3" fill="none"/><path d="M99.0 247.5L103.5 243L108.0 247.5" stroke="#ff0000" stroke-width="1.2" fill="none"/>
<path d="M286.0 224V212M289.0 224V212M283.0 216L287.5 211L292.0 216" fill="none" stroke="#ff0000" stroke-width="1.1"/>
<path d="M369.5 207V196.5M372.5 207V196.5M366.5 200.5L371 195.5L375.5 200.5" fill="none" stroke="#ff0000" stroke-width="1.1"/>
<path d="M393.5 186.5V197" stroke="#ff0000" stroke-width="3" fill="none"/><path d="M389.0 190.5L393.5 186L398.0 190.5" stroke="#ff0000" stroke-width="1.2" fill="none"/>
<path d="M223 157.5V166.0" stroke="#ff0000" stroke-width="3" fill="none"/><path d="M219 161.5L223 166.5L227 161.5" stroke="#ff0000" stroke-width="1.2" fill="none"/>
<path d="M364.5 159V167.5" stroke="#ff0000" stroke-width="3" fill="none"/><path d="M360.5 163L364.5 168L368.5 163" stroke="#ff0000" stroke-width="1.2" fill="none"/>
<path d="M377.5 157V166.0" stroke="#ff0000" stroke-width="3" fill="none"/><path d="M373.5 161.5L377.5 166.5L381.5 161.5" stroke="#ff0000" stroke-width="1.2" fill="none"/>
<path d="M388 236V222M383 228L388 222L393 228" fill="none" stroke="#ff0000" stroke-width="1.1"/>
<path d="M416.5 242V230M411.5 236L416.5 230L421.5 236" fill="none" stroke="#0000ff" stroke-width="1.1"/>
<path d="M460.5 225V212M455.5 218L460.5 212L465.5 218" fill="none" stroke="#ff0000" stroke-width="1.1"/>
<path d="M543.4 187V174.7M538.4 180.7L543.4 174.7L548.4 180.7" fill="none" stroke="#ff0000" stroke-width="1.1"/>
<path d="M548.1 187V174.7M543.1 180.7L548.1 174.7L553.1 180.7" fill="none" stroke="#ff0000" stroke-width="1.1"/>
<path d="M574.4 175V161M569.4 167L574.4 161L579.4 167" fill="none" stroke="#ff0000" stroke-width="1.1"/>
<path d="M576.3 175V161M570.8 167L576.3 161L581.8 167" fill="none" stroke="#0000ff" stroke-width="1.1"/>
<path d="M574.5 209V195M569.5 201L574.5 195L579.5 201" fill="none" stroke="#ff0000" stroke-width="1.1"/>
<path d="M176.4 261.2V249.4M171.4 255.4L176.4 249.4L181.4 255.4" fill="none" stroke="#000000" stroke-width="1.1"/>
<path d="M194.3 257.3V244.2M189.3 250.2L194.3 244.2L199.3 250.2" fill="none" stroke="#0000ff" stroke-width="1.1"/>
<rect x="581.2" y="168.9" width="15.6" height="8.8" fill="#000"/><rect x="593" y="170.2" width="1.6" height="1.8" fill="#fff"/><rect x="589.2" y="174.5" width="3.4" height="1.5" fill="#eee"/>
<polyline points="100.5,293.6 119.0,288.6 138.0,281.8 156.8,273.0 175.5,273.6 200.5,275.0 225.5,275.0 238.0,276.8 250.5,282.4 269.2,290.5 288.0,290.5 306.8,285.5 325.5,281.0 338.0,279.4 363.0,276.2 388.0,272.5 406.8,269.4 419.2,266.9 438.0,265.0 463.0,264.4 500.5,259.4 513.0,255.6 520.0,254.0 540.0,246.0 560.0,237.0 580.0,229.0 593.0,223.5" fill="none" stroke="#ff0000" stroke-width="1" stroke-dasharray="1 1.2" shape-rendering="crispEdges"/>
<polyline points="40.5,291.0 43.0,290.0 45.5,291.8 49.0,292.4 51.8,294.2 56.8,294.9 63.0,296.0 69.0,293.6 75.5,293.6 76.8,291.8 83.0,291.0 88.0,295.0 91.8,293.0 99.0,292.4 104.0,286.8 110.5,290.0 115.5,286.0 118.0,276.8 124.0,276.0 128.0,271.8 133.0,270.0 135.5,267.4 138.0,268.5 145.5,270.5 150.5,270.0 154.0,266.8 158.6,270.5 163.0,283.6 166.8,278.0 171.8,281.8 175.5,281.8 178.0,276.0 180.5,279.0 185.5,274.0 190.5,273.0 195.5,273.6 200.0,266.8 203.0,273.6 208.0,276.0 213.0,274.0 219.0,274.0 225.5,280.5 230.5,281.0 234.0,287.4 241.8,290.5 247.4,295.5 251.0,290.5 254.2,293.0 258.6,291.8 263.0,295.5 266.8,292.4 270.5,291.8 275.5,288.6 280.5,283.6 286.0,281.8 289.2,284.2 293.0,284.9 299.2,280.5 303.0,280.0 308.0,281.0 313.0,280.0 318.0,277.4 325.5,278.6 329.2,275.5 335.5,276.0 338.0,276.9 343.0,275.0 345.5,275.0 348.0,278.8 351.8,276.9 358.0,275.6 363.0,273.8 369.2,271.2 373.0,271.9 378.0,273.1 383.0,271.2 388.0,269.4 390.5,266.9 396.8,266.9 403.0,265.6 406.1,261.2 409.2,264.4 413.0,263.8 418.0,263.8 423.0,266.9 426.8,263.8 430.5,265.0 434.2,268.8 438.0,268.8 444.2,265.6 449.2,265.0 451.8,261.9 456.8,260.0 459.2,255.6 461.8,256.2 463.6,264.4 469.2,264.4 471.8,262.5 475.5,261.9 479.2,259.4 484.2,257.5 488.0,256.9 493.0,257.5 494.9,255.0 498.0,259.4 501.8,253.1 506.8,251.9 509.2,250.0 513.0,248.8 514.9,251.2 518.0,245.0 524.0,245.5 531.0,245.5 532.0,243.5 538.0,244.0 540.0,244.5 543.0,238.0 548.0,233.0 552.0,231.5 554.0,227.0 556.0,227.5 559.0,231.5 562.0,230.0 564.0,231.0 567.0,229.0 571.0,228.5 574.0,224.0 576.0,217.5 580.0,213.0 583.0,215.5 587.0,216.0 590.0,210.0 592.5,206.0" fill="none" stroke="#0000ff" stroke-width="2.3" stroke-linejoin="round"/>
<polyline points="92.0,314.0 117.0,309.0 138.0,305.5 156.8,301.8 200.5,301.0 238.0,300.5 263.0,302.4 288.0,304.9 313.0,302.4 363.0,303.8 388.0,301.9 413.0,299.4 442.0,297.5 517.0,291.0 572.0,286.0 592.0,281.0" fill="none" stroke="#000000" stroke-width="1" stroke-dasharray="1 2" shape-rendering="crispEdges"/>
<polyline points="40.0,315.5 75.0,314.0 82.5,310.5 95.0,312.0 103.0,307.4 118.0,304.0 125.5,300.5 135.5,297.4 138.0,298.6 146.8,301.8 154.0,300.5 160.5,303.0 175.5,302.4 178.0,300.0 198.0,298.6 200.5,297.4 213.0,299.2 225.5,300.5 238.0,301.8 245.5,304.9 263.0,303.6 280.5,301.8 298.0,301.8 313.0,301.8 325.5,303.6 338.0,303.1 360.5,303.1 366.8,300.6 385.5,300.0 393.0,298.8 403.0,298.1 408.0,295.6 416.8,295.6 420.5,297.5 440.0,295.0 446.0,293.8 456.0,292.8 459.0,290.5 461.0,290.7 464.0,293.0 470.0,292.5 480.0,292.5 485.0,291.0 500.0,290.0 525.0,287.5 545.0,289.0 572.5,285.0 580.0,272.5 585.0,271.0 592.5,269.0" fill="none" stroke="#ff00ff" stroke-width="2.3" stroke-linejoin="round"/>
<g fill="#a0a0a0" shape-rendering="crispEdges"><rect x="85" y="322" width="1" height="3"/><rect x="92" y="322" width="1" height="3"/><rect x="98" y="322" width="1" height="3"/><rect x="105" y="322" width="1" height="3"/><rect x="111" y="322" width="1" height="3"/><rect x="118" y="322" width="1" height="3"/><rect x="125" y="322" width="1" height="3"/><rect x="131" y="322" width="1" height="3"/><rect x="138" y="322" width="1" height="3"/><rect x="144" y="322" width="1" height="3"/><rect x="151" y="322" width="1" height="3"/><rect x="158" y="322" width="1" height="3"/><rect x="164" y="322" width="1" height="3"/><rect x="171" y="322" width="1" height="3"/><rect x="177" y="322" width="1" height="3"/><rect x="184" y="322" width="1" height="3"/><rect x="191" y="322" width="1" height="3"/><rect x="197" y="322" width="1" height="3"/><rect x="204" y="322" width="1" height="3"/><rect x="210" y="322" width="1" height="3"/><rect x="217" y="322" width="1" height="3"/><rect x="224" y="322" width="1" height="3"/><rect x="230" y="322" width="1" height="3"/><rect x="237" y="322" width="1" height="3"/><rect x="243" y="322" width="1" height="3"/><rect x="250" y="322" width="1" height="3"/><rect x="257" y="322" width="1" height="3"/><rect x="263" y="322" width="1" height="3"/><rect x="270" y="322" width="1" height="3"/><rect x="276" y="322" width="1" height="3"/><rect x="283" y="322" width="1" height="3"/><rect x="290" y="322" width="1" height="3"/><rect x="296" y="322" width="1" height="3"/><rect x="303" y="322" width="1" height="3"/><rect x="309" y="322" width="1" height="3"/><rect x="316" y="322" width="1" height="3"/><rect x="323" y="322" width="1" height="3"/><rect x="329" y="322" width="1" height="3"/><rect x="336" y="322" width="1" height="3"/><rect x="342" y="322" width="1" height="3"/><rect x="349" y="322" width="1" height="3"/><rect x="356" y="322" width="1" height="3"/><rect x="362" y="322" width="1" height="3"/><rect x="369" y="322" width="1" height="3"/><rect x="375" y="322" width="1" height="3"/><rect x="382" y="322" width="1" height="3"/><rect x="389" y="322" width="1" height="3"/><rect x="395" y="322" width="1" height="3"/><rect x="402" y="322" width="1" height="3"/><rect x="408" y="322" width="1" height="3"/><rect x="415" y="322" width="1" height="3"/><rect x="422" y="322" width="1" height="3"/><rect x="428" y="322" width="1" height="3"/><rect x="435" y="322" width="1" height="3"/><rect x="441" y="322" width="1" height="3"/><rect x="448" y="322" width="1" height="3"/><rect x="455" y="322" width="1" height="3"/><rect x="461" y="322" width="1" height="3"/><rect x="468" y="322" width="1" height="3"/><rect x="474" y="322" width="1" height="3"/><rect x="481" y="322" width="1" height="3"/><rect x="488" y="322" width="1" height="3"/><rect x="494" y="322" width="1" height="3"/><rect x="501" y="322" width="1" height="3"/><rect x="507" y="322" width="1" height="3"/><rect x="514" y="322" width="1" height="3"/><rect x="521" y="322" width="1" height="3"/><rect x="527" y="322" width="1" height="3"/><rect x="534" y="322" width="1" height="3"/><rect x="540" y="322" width="1" height="3"/><rect x="547" y="322" width="1" height="3"/><rect x="554" y="322" width="1" height="3"/><rect x="560" y="322" width="1" height="3"/><rect x="567" y="322" width="1" height="3"/><rect x="573" y="322" width="1" height="3"/><rect x="580" y="322" width="1" height="3"/><rect x="587" y="322" width="1" height="3"/><rect x="593" y="322" width="1" height="3"/></g>
<g fill="#303030"><rect x="85" y="352" width="1.2" height="1.2"/><rect x="92" y="352" width="1.2" height="1.2"/><rect x="98" y="352" width="1.2" height="1.2"/><rect x="105" y="352" width="1.2" height="1.2"/><rect x="111" y="352" width="1.2" height="1.2"/><rect x="118" y="352" width="1.2" height="1.2"/><rect x="125" y="352" width="1.2" height="1.2"/><rect x="131" y="352" width="1.2" height="1.2"/><rect x="138" y="352" width="1.2" height="1.2"/><rect x="144" y="352" width="1.2" height="1.2"/><rect x="151" y="352" width="1.2" height="1.2"/><rect x="158" y="352" width="1.2" height="1.2"/><rect x="164" y="352" width="1.2" height="1.2"/><rect x="171" y="352" width="1.2" height="1.2"/><rect x="177" y="352" width="1.2" height="1.2"/><rect x="184" y="352" width="1.2" height="1.2"/><rect x="191" y="352" width="1.2" height="1.2"/><rect x="197" y="352" width="1.2" height="1.2"/><rect x="204" y="352" width="1.2" height="1.2"/><rect x="210" y="352" width="1.2" height="1.2"/><rect x="217" y="352" width="1.2" height="1.2"/><rect x="224" y="352" width="1.2" height="1.2"/><rect x="230" y="352" width="1.2" height="1.2"/><rect x="237" y="352" width="1.2" height="1.2"/><rect x="243" y="352" width="1.2" height="1.2"/><rect x="250" y="352" width="1.2" height="1.2"/><rect x="257" y="352" width="1.2" height="1.2"/><rect x="263" y="352" width="1.2" height="1.2"/><rect x="270" y="352" width="1.2" height="1.2"/><rect x="276" y="352" width="1.2" height="1.2"/><rect x="283" y="352" width="1.2" height="1.2"/><rect x="290" y="352" width="1.2" height="1.2"/><rect x="296" y="352" width="1.2" height="1.2"/><rect x="303" y="352" width="1.2" height="1.2"/><rect x="309" y="352" width="1.2" height="1.2"/><rect x="316" y="352" width="1.2" height="1.2"/><rect x="323" y="352" width="1.2" height="1.2"/><rect x="329" y="352" width="1.2" height="1.2"/><rect x="336" y="352" width="1.2" height="1.2"/><rect x="342" y="352" width="1.2" height="1.2"/><rect x="349" y="352" width="1.2" height="1.2"/><rect x="356" y="352" width="1.2" height="1.2"/><rect x="362" y="352" width="1.2" height="1.2"/><rect x="369" y="352" width="1.2" height="1.2"/><rect x="375" y="352" width="1.2" height="1.2"/><rect x="382" y="352" width="1.2" height="1.2"/><rect x="389" y="352" width="1.2" height="1.2"/><rect x="395" y="352" width="1.2" height="1.2"/><rect x="402" y="352" width="1.2" height="1.2"/><rect x="408" y="352" width="1.2" height="1.2"/><rect x="415" y="352" width="1.2" height="1.2"/><rect x="422" y="352" width="1.2" height="1.2"/><rect x="428" y="352" width="1.2" height="1.2"/><rect x="435" y="352" width="1.2" height="1.2"/><rect x="441" y="352" width="1.2" height="1.2"/><rect x="448" y="352" width="1.2" height="1.2"/><rect x="455" y="352" width="1.2" height="1.2"/><rect x="461" y="352" width="1.2" height="1.2"/><rect x="468" y="352" width="1.2" height="1.2"/><rect x="474" y="352" width="1.2" height="1.2"/><rect x="481" y="352" width="1.2" height="1.2"/><rect x="488" y="352" width="1.2" height="1.2"/><rect x="494" y="352" width="1.2" height="1.2"/><rect x="501" y="352" width="1.2" height="1.2"/><rect x="507" y="352" width="1.2" height="1.2"/><rect x="514" y="352" width="1.2" height="1.2"/><rect x="521" y="352" width="1.2" height="1.2"/><rect x="527" y="352" width="1.2" height="1.2"/><rect x="534" y="352" width="1.2" height="1.2"/><rect x="540" y="352" width="1.2" height="1.2"/><rect x="547" y="352" width="1.2" height="1.2"/><rect x="554" y="352" width="1.2" height="1.2"/><rect x="560" y="352" width="1.2" height="1.2"/><rect x="567" y="352" width="1.2" height="1.2"/><rect x="573" y="352" width="1.2" height="1.2"/><rect x="580" y="352" width="1.2" height="1.2"/><rect x="587" y="352" width="1.2" height="1.2"/><rect x="593" y="352" width="1.2" height="1.2"/></g>
<g fill="#c09090" shape-rendering="crispEdges"><rect x="85" y="410" width="1" height="1"/><rect x="92" y="410" width="1" height="1"/><rect x="98" y="410" width="1" height="1"/><rect x="105" y="410" width="1" height="1"/><rect x="111" y="410" width="1" height="1"/><rect x="118" y="410" width="1" height="1"/><rect x="125" y="410" width="1" height="1"/><rect x="131" y="410" width="1" height="1"/><rect x="138" y="410" width="1" height="1"/><rect x="144" y="410" width="1" height="1"/><rect x="151" y="410" width="1" height="1"/><rect x="158" y="410" width="1" height="1"/><rect x="164" y="410" width="1" height="1"/><rect x="171" y="410" width="1" height="1"/><rect x="177" y="410" width="1" height="1"/><rect x="184" y="410" width="1" height="1"/><rect x="191" y="410" width="1" height="1"/><rect x="197" y="410" width="1" height="1"/><rect x="204" y="410" width="1" height="1"/><rect x="210" y="410" width="1" height="1"/><rect x="217" y="410" width="1" height="1"/><rect x="224" y="410" width="1" height="1"/><rect x="230" y="410" width="1" height="1"/><rect x="237" y="410" width="1" height="1"/><rect x="243" y="410" width="1" height="1"/><rect x="250" y="410" width="1" height="1"/><rect x="257" y="410" width="1" height="1"/><rect x="263" y="410" width="1" height="1"/><rect x="270" y="410" width="1" height="1"/><rect x="276" y="410" width="1" height="1"/><rect x="283" y="410" width="1" height="1"/><rect x="290" y="410" width="1" height="1"/><rect x="296" y="410" width="1" height="1"/><rect x="303" y="410" width="1" height="1"/><rect x="309" y="410" width="1" height="1"/><rect x="316" y="410" width="1" height="1"/><rect x="323" y="410" width="1" height="1"/><rect x="329" y="410" width="1" height="1"/><rect x="336" y="410" width="1" height="1"/><rect x="342" y="410" width="1" height="1"/><rect x="349" y="410" width="1" height="1"/><rect x="356" y="410" width="1" height="1"/><rect x="362" y="410" width="1" height="1"/><rect x="369" y="410" width="1" height="1"/><rect x="375" y="410" width="1" height="1"/><rect x="382" y="410" width="1" height="1"/><rect x="389" y="410" width="1" height="1"/><rect x="395" y="410" width="1" height="1"/><rect x="402" y="410" width="1" height="1"/><rect x="408" y="410" width="1" height="1"/><rect x="415" y="410" width="1" height="1"/><rect x="422" y="410" width="1" height="1"/><rect x="428" y="410" width="1" height="1"/><rect x="435" y="410" width="1" height="1"/><rect x="441" y="410" width="1" height="1"/><rect x="448" y="410" width="1" height="1"/><rect x="455" y="410" width="1" height="1"/><rect x="461" y="410" width="1" height="1"/><rect x="468" y="410" width="1" height="1"/><rect x="474" y="410" width="1" height="1"/><rect x="481" y="410" width="1" height="1"/><rect x="488" y="410" width="1" height="1"/><rect x="494" y="410" width="1" height="1"/><rect x="501" y="410" width="1" height="1"/><rect x="507" y="410" width="1" height="1"/><rect x="514" y="410" width="1" height="1"/><rect x="521" y="410" width="1" height="1"/><rect x="527" y="410" width="1" height="1"/><rect x="534" y="410" width="1" height="1"/><rect x="540" y="410" width="1" height="1"/><rect x="547" y="410" width="1" height="1"/><rect x="554" y="410" width="1" height="1"/><rect x="560" y="410" width="1" height="1"/><rect x="567" y="410" width="1" height="1"/><rect x="573" y="410" width="1" height="1"/><rect x="580" y="410" width="1" height="1"/><rect x="587" y="410" width="1" height="1"/><rect x="593" y="410" width="1" height="1"/></g>
<line x1="85" y1="341.5" x2="608" y2="341.5" stroke="#800080" stroke-width="1.3"/>
<line x1="40" y1="341" x2="86" y2="341" stroke="#000" stroke-width="1.5"/>
<line x1="39.5" y1="406" x2="39.5" y2="424" stroke="#a0a040" stroke-width="1"/>
<polyline points="98.8,341.2 117.5,338.4 136.3,334.7 155.0,331.9 181.3,331.0 250.0,333.0 400.0,330.0 500.0,324.0 592.5,314.0" fill="none" stroke="#ff0000" stroke-width="1" stroke-dasharray="1 2" shape-rendering="crispEdges"/>
<polyline points="80.0,341.2 86.0,342.0 98.8,341.2 104.4,338.4 110.0,339.4 117.5,334.7 125.0,333.8 132.5,331.9 142.0,330.0 155.0,330.0 164.4,332.8 170.0,332.0 179.4,330.0 200.0,328.5 210.0,330.0 242.5,332.5 262.5,334.0 275.0,331.0 300.0,331.0 350.0,332.5 375.0,330.0 400.0,329.0 415.0,326.0 432.5,329.5 460.0,324.0 465.0,326.0 485.0,322.5 500.0,320.0 530.0,319.0 555.0,316.0 572.5,316.0 577.5,310.0 585.0,310.0 592.5,307.5" fill="none" stroke="#000000" stroke-width="2.2" stroke-linejoin="round"/>
<g fill="none" stroke-width="1.1" shape-rendering="crispEdges"><path d="M85.5 381V382.0" stroke="#ff0000"/><path d="M87.5 381V398.2" stroke="#ff0000"/><path d="M89.5 381V393.7" stroke="#ff0000"/><path d="M92.5 381V390.5" stroke="#ff0000"/><path d="M94.5 381V393.5" stroke="#ff0000"/><path d="M96.5 381V389.8" stroke="#ff0000"/><path d="M98.5 381V389.9" stroke="#ff0000"/><path d="M100.5 381V389.6" stroke="#ff0000"/><path d="M103.5 381V382.0" stroke="#ff0000"/><path d="M105.5 381V371.0" stroke="#0000ff"/><path d="M107.5 381V369.1" stroke="#0000ff"/><path d="M109.5 381V370.8" stroke="#0000ff"/><path d="M111.5 381V373.0" stroke="#0000ff"/><path d="M114.5 381V373.0" stroke="#0000ff"/><path d="M116.5 381V369.0" stroke="#0000ff"/><path d="M118.5 381V364.7" stroke="#0000ff"/><path d="M120.5 381V364.2" stroke="#0000ff"/><path d="M122.5 381V364.0" stroke="#0000ff"/><path d="M125.5 381V360.3" stroke="#0000ff"/><path d="M127.5 381V356.7" stroke="#0000ff"/><path d="M129.5 381V353.3" stroke="#0000ff"/><path d="M131.5 381V350.0" stroke="#0000ff"/><path d="M133.5 381V347.2" stroke="#0000ff"/><path d="M136.5 381V345.7" stroke="#0000ff"/><path d="M138.5 381V345.1" stroke="#0000ff"/><path d="M140.5 381V342.7" stroke="#0000ff"/><path d="M142.5 381V340.1" stroke="#0000ff"/><path d="M144.5 381V338.8" stroke="#0000ff"/><path d="M147.5 381V339.1" stroke="#0000ff"/><path d="M149.5 381V340.9" stroke="#0000ff"/><path d="M151.5 381V342.8" stroke="#0000ff"/><path d="M153.5 381V343.4" stroke="#0000ff"/><path d="M155.5 381V341.1" stroke="#0000ff"/><path d="M158.5 381V339.3" stroke="#0000ff"/><path d="M160.5 381V342.6" stroke="#0000ff"/><path d="M162.5 381V348.8" stroke="#0000ff"/><path d="M164.5 381V353.7" stroke="#0000ff"/><path d="M166.5 381V351.5" stroke="#0000ff"/><path d="M169.5 381V349.2" stroke="#0000ff"/><path d="M171.5 381V348.4" stroke="#0000ff"/><path d="M173.5 381V350.0" stroke="#0000ff"/><path d="M175.5 381V352.7" stroke="#0000ff"/><path d="M177.5 381V356.0" stroke="#0000ff"/><path d="M180.5 381V362.3" stroke="#0000ff"/><path d="M182.5 381V363.6" stroke="#0000ff"/><path d="M184.5 381V361.8" stroke="#0000ff"/><path d="M186.5 381V361.9" stroke="#0000ff"/><path d="M188.5 381V363.5" stroke="#0000ff"/><path d="M191.5 381V363.3" stroke="#0000ff"/><path d="M193.5 381V362.9" stroke="#0000ff"/><path d="M195.5 381V363.4" stroke="#0000ff"/><path d="M197.5 381V364.0" stroke="#0000ff"/><path d="M199.5 381V364.5" stroke="#0000ff"/><path d="M202.5 381V369.0" stroke="#0000ff"/><path d="M204.5 381V375.0" stroke="#0000ff"/><path d="M206.5 381V368.7" stroke="#0000ff"/><path d="M208.5 381V362.4" stroke="#0000ff"/><path d="M210.5 381V360.0" stroke="#0000ff"/><path d="M213.5 381V362.2" stroke="#0000ff"/><path d="M215.5 381V366.3" stroke="#0000ff"/><path d="M217.5 381V371.1" stroke="#0000ff"/><path d="M219.5 381V376.1" stroke="#0000ff"/><path d="M221.5 381V382.0" stroke="#ff0000"/><path d="M224.5 381V390.1" stroke="#ff0000"/><path d="M226.5 381V398.5" stroke="#ff0000"/><path d="M228.5 381V403.0" stroke="#ff0000"/><path d="M230.5 381V406.4" stroke="#ff0000"/><path d="M232.5 381V409.8" stroke="#ff0000"/><path d="M235.5 381V414.2" stroke="#ff0000"/><path d="M237.5 381V418.6" stroke="#ff0000"/><path d="M239.5 381V423.0" stroke="#ff0000"/><path d="M241.5 381V427.0" stroke="#ff0000"/><path d="M243.5 381V430.7" stroke="#ff0000"/><path d="M246.5 381V434.3" stroke="#ff0000"/><path d="M248.5 381V437.1" stroke="#ff0000"/><path d="M250.5 381V433.8" stroke="#ff0000"/><path d="M252.5 381V430.5" stroke="#ff0000"/><path d="M254.5 381V431.9" stroke="#ff0000"/><path d="M257.5 381V434.1" stroke="#ff0000"/><path d="M259.5 381V434.1" stroke="#ff0000"/><path d="M261.5 381V432.7" stroke="#ff0000"/><path d="M263.5 381V431.2" stroke="#ff0000"/><path d="M265.5 381V429.5" stroke="#ff0000"/><path d="M268.5 381V426.5" stroke="#ff0000"/><path d="M270.5 381V423.6" stroke="#ff0000"/><path d="M272.5 381V420.7" stroke="#ff0000"/><path d="M274.5 381V414.9" stroke="#ff0000"/><path d="M276.5 381V408.3" stroke="#ff0000"/><path d="M279.5 381V400.1" stroke="#ff0000"/><path d="M281.5 381V390.9" stroke="#ff0000"/><path d="M283.5 381V383.2" stroke="#ff0000"/><path d="M285.5 381V376.3" stroke="#0000ff"/><path d="M287.5 381V372.4" stroke="#0000ff"/><path d="M290.5 381V372.3" stroke="#0000ff"/><path d="M292.5 381V364.3" stroke="#0000ff"/><path d="M294.5 381V361.0" stroke="#0000ff"/><path d="M296.5 381V358.7" stroke="#0000ff"/><path d="M298.5 381V358.5" stroke="#0000ff"/><path d="M301.5 381V359.3" stroke="#0000ff"/><path d="M303.5 381V360.5" stroke="#0000ff"/><path d="M305.5 381V364.3" stroke="#0000ff"/><path d="M307.5 381V365.1" stroke="#0000ff"/><path d="M309.5 381V362.8" stroke="#0000ff"/><path d="M312.5 381V366.9" stroke="#0000ff"/><path d="M314.5 381V357.4" stroke="#0000ff"/><path d="M316.5 381V349.0" stroke="#0000ff"/><path d="M318.5 381V353.5" stroke="#0000ff"/><path d="M320.5 381V353.5" stroke="#0000ff"/><path d="M323.5 381V357.6" stroke="#0000ff"/><path d="M325.5 381V364.9" stroke="#0000ff"/><path d="M327.5 381V373.0" stroke="#0000ff"/><path d="M329.5 381V371.6" stroke="#0000ff"/><path d="M331.5 381V373.8" stroke="#0000ff"/><path d="M334.5 381V377.0" stroke="#0000ff"/><path d="M336.5 381V376.6" stroke="#0000ff"/><path d="M338.5 381V376.3" stroke="#0000ff"/><path d="M340.5 381V375.9" stroke="#0000ff"/><path d="M342.5 381V374.4" stroke="#0000ff"/><path d="M345.5 381V372.9" stroke="#0000ff"/><path d="M347.5 381V371.3" stroke="#0000ff"/><path d="M349.5 381V369.4" stroke="#0000ff"/><path d="M351.5 381V367.6" stroke="#0000ff"/><path d="M353.5 381V363.2" stroke="#0000ff"/><path d="M356.5 381V358.1" stroke="#0000ff"/><path d="M358.5 381V352.7" stroke="#0000ff"/><path d="M360.5 381V360.2" stroke="#0000ff"/><path d="M362.5 381V376.9" stroke="#0000ff"/><path d="M364.5 381V383.4" stroke="#ff0000"/><path d="M367.5 381V383.6" stroke="#ff0000"/><path d="M369.5 381V380.5" stroke="#0000ff"/><path d="M371.5 381V378.5" stroke="#0000ff"/><path d="M373.5 381V378.0" stroke="#0000ff"/><path d="M375.5 381V379.8" stroke="#0000ff"/><path d="M378.5 381V382.5" stroke="#ff0000"/><path d="M380.5 381V382.5" stroke="#ff0000"/><path d="M382.5 381V382.5" stroke="#ff0000"/><path d="M384.5 381V382.5" stroke="#ff0000"/><path d="M386.5 381V382.5" stroke="#ff0000"/><path d="M389.5 381V382.5" stroke="#ff0000"/><path d="M391.5 381V382.3" stroke="#ff0000"/><path d="M393.5 381V378.5" stroke="#0000ff"/><path d="M395.5 381V375.0" stroke="#0000ff"/><path d="M397.5 381V372.3" stroke="#0000ff"/><path d="M400.5 381V371.9" stroke="#0000ff"/><path d="M402.5 381V372.9" stroke="#0000ff"/><path d="M404.5 381V371.7" stroke="#0000ff"/><path d="M406.5 381V370.3" stroke="#0000ff"/><path d="M408.5 381V368.4" stroke="#0000ff"/><path d="M411.5 381V365.6" stroke="#0000ff"/><path d="M413.5 381V363.7" stroke="#0000ff"/><path d="M415.5 381V362.2" stroke="#0000ff"/><path d="M417.5 381V360.7" stroke="#0000ff"/><path d="M419.5 381V359.3" stroke="#0000ff"/><path d="M422.5 381V361.7" stroke="#0000ff"/><path d="M424.5 381V363.9" stroke="#0000ff"/><path d="M426.5 381V360.3" stroke="#0000ff"/><path d="M428.5 381V356.8" stroke="#0000ff"/><path d="M430.5 381V357.3" stroke="#0000ff"/><path d="M433.5 381V360.1" stroke="#0000ff"/><path d="M435.5 381V363.7" stroke="#0000ff"/><path d="M437.5 381V368.0" stroke="#0000ff"/><path d="M439.5 381V370.2" stroke="#0000ff"/><path d="M441.5 381V372.4" stroke="#0000ff"/><path d="M444.5 381V372.6" stroke="#0000ff"/><path d="M446.5 381V370.9" stroke="#0000ff"/><path d="M448.5 381V369.6" stroke="#0000ff"/><path d="M450.5 381V368.6" stroke="#0000ff"/><path d="M452.5 381V366.8" stroke="#0000ff"/><path d="M455.5 381V363.9" stroke="#0000ff"/><path d="M457.5 381V360.8" stroke="#0000ff"/><path d="M459.5 381V357.7" stroke="#0000ff"/><path d="M461.5 381V356.2" stroke="#0000ff"/><path d="M463.5 381V358.4" stroke="#0000ff"/><path d="M466.5 381V357.7" stroke="#0000ff"/><path d="M468.5 381V355.8" stroke="#0000ff"/><path d="M470.5 381V354.7" stroke="#0000ff"/><path d="M472.5 381V355.8" stroke="#0000ff"/><path d="M474.5 381V356.1" stroke="#0000ff"/><path d="M477.5 381V352.8" stroke="#0000ff"/><path d="M479.5 381V349.8" stroke="#0000ff"/><path d="M481.5 381V348.7" stroke="#0000ff"/><path d="M483.5 381V347.3" stroke="#0000ff"/><path d="M485.5 381V343.0" stroke="#0000ff"/><path d="M488.5 381V338.6" stroke="#0000ff"/><path d="M490.5 381V338.1" stroke="#0000ff"/><path d="M492.5 381V337.5" stroke="#0000ff"/><path d="M494.5 381V340.1" stroke="#0000ff"/><path d="M496.5 381V342.7" stroke="#0000ff"/><path d="M499.5 381V344.1" stroke="#0000ff"/><path d="M501.5 381V343.5" stroke="#0000ff"/><path d="M503.5 381V344.2" stroke="#0000ff"/><path d="M505.5 381V346.9" stroke="#0000ff"/><path d="M507.5 381V347.0" stroke="#0000ff"/><path d="M510.5 381V341.5" stroke="#0000ff"/><path d="M512.5 381V337.4" stroke="#0000ff"/><path d="M514.5 381V337.1" stroke="#0000ff"/><path d="M516.5 381V336.8" stroke="#0000ff"/><path d="M518.5 381V336.5" stroke="#0000ff"/><path d="M521.5 381V336.7" stroke="#0000ff"/><path d="M523.5 381V337.0" stroke="#0000ff"/><path d="M525.5 381V337.4" stroke="#0000ff"/><path d="M527.5 381V337.2" stroke="#0000ff"/><path d="M529.5 381V336.6" stroke="#0000ff"/><path d="M532.5 381V337.1" stroke="#0000ff"/><path d="M534.5 381V338.4" stroke="#0000ff"/><path d="M536.5 381V339.6" stroke="#0000ff"/><path d="M538.5 381V340.9" stroke="#0000ff"/><path d="M540.5 381V346.3" stroke="#0000ff"/><path d="M543.5 381V338.2" stroke="#0000ff"/><path d="M545.5 381V332.2" stroke="#0000ff"/><path d="M547.5 381V330.3" stroke="#0000ff"/><path d="M549.5 381V328.3" stroke="#0000ff"/><path d="M551.5 381V326.4" stroke="#0000ff"/><path d="M554.5 381V325.8" stroke="#0000ff"/><path d="M556.5 381V328.1" stroke="#0000ff"/><path d="M558.5 381V330.3" stroke="#0000ff"/><path d="M560.5 381V330.2" stroke="#0000ff"/><path d="M562.5 381V330.5" stroke="#0000ff"/><path d="M565.5 381V334.3" stroke="#0000ff"/><path d="M567.5 381V337.8" stroke="#0000ff"/><path d="M569.5 381V339.7" stroke="#0000ff"/><path d="M571.5 381V341.5" stroke="#0000ff"/><path d="M573.5 381V342.4" stroke="#0000ff"/><path d="M576.5 381V334.2" stroke="#0000ff"/><path d="M578.5 381V333.4" stroke="#0000ff"/><path d="M580.5 381V339.1" stroke="#0000ff"/><path d="M582.5 381V373.5" stroke="#0000ff"/><path d="M584.5 381V371.9" stroke="#0000ff"/><path d="M587.5 381V370.2" stroke="#0000ff"/><path d="M589.5 381V368.6" stroke="#0000ff"/><path d="M591.5 381V366.9" stroke="#0000ff"/></g>
<polyline points="85.0,382.0 86.6,399.4 91.2,390.0 94.0,393.8 96.9,388.0 99.7,392.0 102.5,382.5 105.3,368.5 108.0,369.4 111.0,373.0 113.8,373.0 118.5,363.8 122.0,364.7 126.0,358.0 130.7,350.6 134.4,346.0 138.0,345.0 142.8,339.4 145.7,338.4 151.3,343.0 154.0,343.5 157.0,338.4 160.7,344.0 163.5,354.4 170.0,347.8 173.8,350.6 177.6,356.3 180.4,364.7 185.0,361.0 188.8,363.8 192.6,362.8 200.0,364.7 203.8,375.0 209.4,359.0 213.2,362.8 218.8,375.0 221.6,382.5 226.3,400.4 232.5,410.0 240.0,425.0 247.5,437.5 252.5,430.0 257.5,435.0 265.0,430.0 272.5,420.0 277.5,405.0 280.0,393.8 283.8,380.6 286.6,372.2 289.4,373.0 292.2,362.8 296.9,358.0 302.5,360.0 306.3,366.6 309.0,362.0 311.9,367.5 315.6,347.8 317.5,353.5 321.3,353.5 324.0,362.0 327.0,373.0 329.7,371.3 333.5,377.0 340.0,376.0 345.7,372.2 351.3,367.5 354.0,362.0 357.9,352.5 360.7,362.8 362.5,379.7 365.4,385.3 370.0,378.8 373.8,377.8 377.6,382.5 385.0,382.5 390.7,382.5 394.4,376.0 398.2,371.3 402.0,373.0 407.6,369.4 411.3,364.7 419.8,359.0 423.4,364.5 429.0,355.5 433.5,361.2 437.0,368.0 442.5,373.5 447.0,370.0 451.5,368.0 455.0,363.4 460.5,355.5 464.0,359.0 469.5,354.4 474.0,356.7 478.5,350.0 483.0,347.7 487.6,338.6 492.0,337.5 497.7,344.3 502.2,343.2 506.7,348.8 511.2,337.5 519.0,336.4 525.9,337.5 530.4,336.4 538.2,340.9 540.5,346.5 543.9,333.0 552.9,325.1 558.5,330.8 561.9,329.6 566.4,337.5 573.2,343.2 576.5,330.8 579.9,337.5 582.2,373.5 591.2,366.8 593.4,370.2" fill="none" stroke="#000020" stroke-width="1"/>
<polyline points="155.0,352.5 170.0,346.0 185.0,349.7 207.6,360.0 230.0,373.0 240.0,380.0 255.0,402.5 267.5,420.0 280.0,426.0 290.0,417.0 296.9,405.0 313.8,380.6 325.0,363.8 336.3,363.8 355.0,368.5 368.2,373.0 392.6,376.0 411.3,377.8 420.0,374.7 442.5,366.8 453.8,365.7 487.6,356.7 510.0,346.5 532.6,340.9 555.0,335.3 577.7,335.3 591.2,343.2" fill="none" stroke="#000000" stroke-width="1"/>
</svg>
</body></html>
